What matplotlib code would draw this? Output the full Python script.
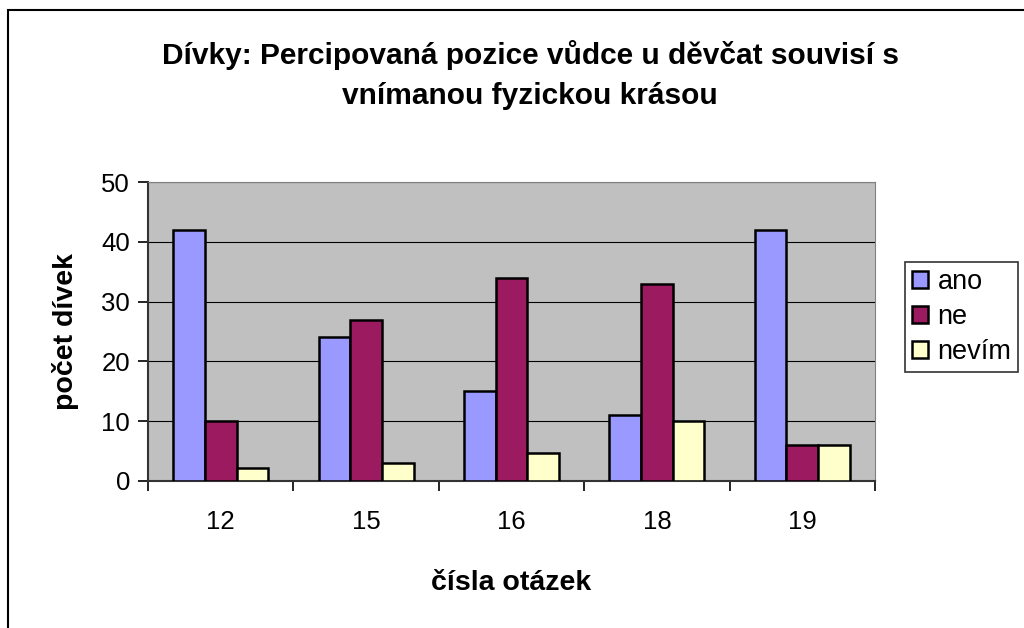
import matplotlib
matplotlib.use("Agg")
import matplotlib.pyplot as plt
import numpy as np

plt.rcParams['font.family'] = ['Liberation Sans', 'DejaVu Sans']

otazky = ["12", "15", "16", "18", "19"]
ano = [42, 24, 15, 11, 42]
ne = [10, 27, 34, 33, 6]
nevim = [2.1, 3, 4.7, 10, 6.1]
serie = ["ano", "ne", "nevím"]
barvy = ["#9999ff", "#9b1a60", "#ffffcc"]

fig = plt.figure(figsize=(10.24, 6.28), dpi=100)
# ramecek kolem celeho grafu (vpravo a dole oriznuty)
fig.patches.append(plt.Rectangle((7.5 / 1024, -0.1), 1.2, 1 - 10.5 / 628 + 0.1,
                                 transform=fig.transFigure, fill=False,
                                 edgecolor="black", linewidth=1.5))
ax = fig.add_axes([148 / 1024, 1 - 481 / 628, 727 / 1024, 299 / 628])
ax.set_facecolor("#c0c0c0")

x = np.arange(len(otazky))
w = 0.218
for i, (hodnoty, jmeno) in enumerate(zip([ano, ne, nevim], serie)):
    ax.bar(x + (i - 1) * w, hodnoty, w, color=barvy[i], edgecolor="black",
           linewidth=1.8, label=jmeno, zorder=3)

ax.set_xlim(-0.5, len(otazky) - 0.5)
ax.set_ylim(0, 50)
ax.set_yticks(range(0, 51, 10))
ax.yaxis.grid(True, color="black", linewidth=0.8, zorder=0)
ax.set_xticks(x)
ax.set_xticklabels(otazky)
ax.set_xticks(np.arange(len(otazky) + 1) - 0.5, minor=True)
ax.tick_params(axis="x", which="major", length=0, pad=21, labelsize=18.5)
ax.tick_params(axis="x", which="minor", length=7, direction="out", width=1.2)
ax.tick_params(axis="y", length=7, direction="out", labelsize=18.5, pad=6, width=1.2)
for s in ["top", "right"]:
    ax.spines[s].set_color("#808080")
for s in ["left", "bottom"]:
    ax.spines[s].set_color("#333333")
    ax.spines[s].set_linewidth(1.5)

ax.set_xlabel("čísla otázek", fontsize=20.5, fontweight="bold", labelpad=26)
ax.set_ylabel("počet dívek", fontsize=20.5, fontweight="bold", labelpad=16)
fig.text(530 / 1024, 1 - 75 / 628,
         "Dívky: Percipovaná pozice vůdce u děvčat souvisí s\nvnímanou fyzickou krásou",
         ha="center", va="center", fontsize=21.5, fontweight="bold", linespacing=1.5)

leg = ax.legend(loc="upper left", bbox_to_anchor=(905 / 1024, 1 - 262 / 628),
                bbox_transform=fig.transFigure, fontsize=19.5,
                frameon=True, fancybox=False, edgecolor="black", handlelength=0.6,
                handleheight=0.6, handletextpad=0.35, labelspacing=0.34, borderpad=0.25,
                borderaxespad=0)
leg.get_frame().set_linewidth(1.2)

fig.savefig("out.png", dpi=100)
